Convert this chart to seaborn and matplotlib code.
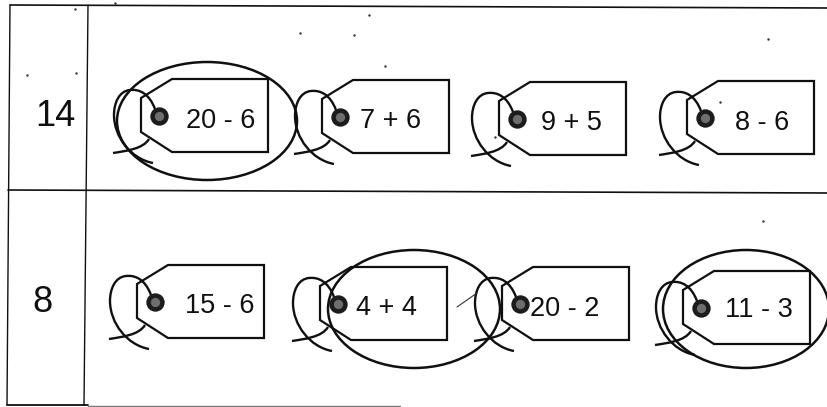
# tags_worksheet.py
import matplotlib
matplotlib.use('Agg')
import matplotlib.pyplot as plt
import pandas as pd
import seaborn as sns
from matplotlib.patches import Ellipse, PathPatch, Polygon
from matplotlib.path import Path

sns.set_theme(style="white")
plt.rcParams['font.family'] = ['Liberation Sans', 'DejaVu Sans']

# Worksheet content
row_values = ['14', '8']
tag_labels = ['20 - 6', '7 + 6', '9 + 5', '8 - 6', '15 - 6', '4 + 4', '20 - 2', '11 - 3']
tag_rows = [0, 0, 0, 0, 1, 1, 1, 1]
tag_circled = [True, False, False, False, False, True, False, True]

# Layout, in pixels
tag_left = [141, 322, 499, 687, 137, 320, 502, 683]
tag_top = [79, 80, 82, 81, 265, 267, 267, 271]
text_x = [221, 391, 571, 762, 220, 386, 565, 759]
text_y = [121, 121, 123, 123, 306, 308, 309, 310]
row_label_x = [55, 42]
row_label_y = [116, 302]
ring_x = [207, 414, 746]
ring_y = [121, 309, 309]
ring_w = [180, 172, 166]
ring_h = [118, 118, 118]
speck_x = [75, 27, 76, 300, 354, 369, 385, 768, 495, 720, 763, 115]
speck_y = [9, 75, 73, 33, 35, 15, 66, 39, 137, 102, 221, 3]

tags = pd.DataFrame({
    'label': tag_labels,
    'row': tag_rows,
    'left': tag_left,
    'top': tag_top,
    'text_x': text_x,
    'text_y': text_y,
})
tags['hole_x'] = tags['left'] + 18
tags['hole_y'] = tags['top'] + 37

ink = '#101010'
fig, ax = plt.subplots(figsize=(8.28, 4.07), dpi=100)
ax.set_position([0, 0, 1, 1])
ax.set_xlim(0, 828)
ax.set_ylim(407, 0)
ax.axis('off')

# Table rules (the scan is a little crooked)
ax.plot([10, 828], [5, 8], color=ink, lw=1.2)
ax.plot([8, 828], [190, 193], color=ink, lw=1.2)
ax.plot([7, 88], [405, 405], color=ink, lw=1.3)
ax.plot([88, 400], [406, 406], color='#777777', lw=1.0)
ax.plot([10, 7], [5, 405], color=ink, lw=1.0)
ax.plot([88, 84], [5, 405], color=ink, lw=1.0)

for row, value in enumerate(row_values):
    ax.text(row_label_x[row], row_label_y[row], value, fontsize=26, color=ink,
            ha='center', va='center')

# Tags and strings
for t in tags.itertuples():
    x, y = t.left, t.top
    outline = [(0, 19), (31, 0), (127, 0), (127, 73), (31, 73), (0, 53)]
    ax.add_patch(Polygon([(x + a, y + b) for a, b in outline], closed=True,
                         fill=False, ec=ink, lw=1.6, joinstyle='miter'))
    loop = [(14, 30), (8, 14), (-2, 10), (-11, 11), (-22, 12), (-27, 24), (-27, 36),
            (-27, 58), (-10, 80), (12, 84)]
    codes = [Path.MOVETO] + [Path.CURVE4] * 9
    ax.add_patch(PathPatch(Path([(x + a, y + b) for a, b in loop], codes),
                           fill=False, ec=ink, lw=1.7))
    tail = [(8, 60), (2, 70), (-15, 72), (-28, 74)]
    ax.add_patch(PathPatch(Path([(x + a, y + b) for a, b in tail], [Path.MOVETO] + [Path.CURVE4] * 3),
                           fill=False, ec=ink, lw=1.7))
    ax.text(t.text_x, t.text_y, t.label, fontsize=19.5, color=ink, ha='center', va='center')

# Holes
sns.scatterplot(data=tags, x='hole_x', y='hole_y', s=175, color='#1c1c1c', linewidth=0,
                legend=False, ax=ax, zorder=4)
sns.scatterplot(data=tags, x='hole_x', y='hole_y', s=45, color='#6e6e6e', linewidth=0,
                legend=False, ax=ax, zorder=5)

# Pencil rings around the correct tags
for i in range(len(ring_x)):
    ax.add_patch(Ellipse((ring_x[i], ring_y[i]), ring_w[i], ring_h[i], fill=False,
                         ec=ink, lw=1.8, zorder=6))
ax.plot([457, 477], [307, 293], color='#333333', lw=0.8)

# Dust from the scan
sns.scatterplot(x=speck_x, y=speck_y, s=3, color='#333333', linewidth=0, legend=False, ax=ax)

ax.set_xlim(0, 828)
ax.set_ylim(407, 0)
ax.set_xlabel('')
ax.set_ylabel('')
fig.savefig('out.png', dpi=100)
